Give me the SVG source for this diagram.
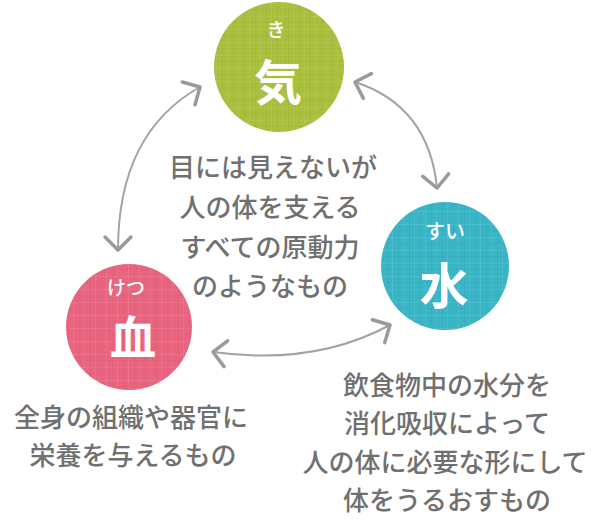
<svg xmlns="http://www.w3.org/2000/svg" width="600" height="520" viewBox="0 0 600 520">
  <style>
    .kana { font-family: "Noto Sans CJK JP", sans-serif; fill: #ffffff; font-weight: 500; text-anchor: middle; }
    .kanji { font-family: "Noto Sans CJK JP", sans-serif; fill: #ffffff; font-weight: 700; text-anchor: middle; }
    .desc { font-family: "Noto Sans CJK JP", sans-serif; fill: #707070; font-weight: 500; font-size: 26px; text-anchor: middle; }
    .conn { fill: none; stroke: #a3a3a3; stroke-width: 2; stroke-linecap: round; marker-start: url(#chev); marker-end: url(#chev); }
    .tex { fill: url(#weave); }
  </style>
  <defs>
    <marker id="chev" markerUnits="userSpaceOnUse" viewBox="-20 -18 24 36" refX="0" refY="0" markerWidth="24" markerHeight="36" orient="auto-start-reverse" overflow="visible">
      <path d="M-13,-13 L0,0 L-13,13" fill="none" stroke="#9a9a9a" stroke-width="3.5" stroke-linecap="round" stroke-linejoin="round"/>
    </marker>
    <pattern id="weave" patternUnits="userSpaceOnUse" width="11" height="13">
      <path d="M0,3.5 H11 M7.5,0 V13" stroke="#ffffff" stroke-opacity="0.08" stroke-width="1"/>
      <path d="M0,9.5 H11 M2.5,0 V13" stroke="#000000" stroke-opacity="0.03" stroke-width="1"/>
    </pattern>
  </defs>
  <rect width="600" height="520" fill="#ffffff"/>

  <g id="connectors">
    <path class="conn" d="M118,250 Q118,133 200,87"/>
    <path class="conn" d="M355,82 Q428.8,106 437,188"/>
    <path class="conn" d="M213,352 Q314,366 390,325"/>
  </g>

  <g id="node-ki">
    <circle cx="279" cy="67" r="65" fill="#a9bf3e"/>
    <circle class="tex" cx="279" cy="67" r="65"/>
    <text class="kana" x="276" y="37" font-size="19">き</text>
    <text class="kanji" x="278" y="100" font-size="48">気</text>
  </g>

  <g id="node-sui">
    <circle cx="445" cy="266" r="64" fill="#3ab5c6"/>
    <circle class="tex" cx="445" cy="266" r="64"/>
    <text class="kana" x="445" y="239" font-size="20">すい</text>
    <text class="kanji" x="444" y="304" font-size="49">水</text>
  </g>

  <g id="node-ketsu">
    <circle cx="129" cy="327" r="63" fill="#e9657f"/>
    <circle class="tex" cx="129" cy="327" r="63"/>
    <text class="kana" x="126" y="295" font-size="19">けつ</text>
    <text class="kanji" x="133" y="354" font-size="46">血</text>
  </g>

  <g id="text-ki">
    <text class="desc" x="273" y="177">目には見えないが</text>
    <text class="desc" x="270" y="217">人の体を支える</text>
    <text class="desc" x="270" y="257">すべての原動力</text>
    <text class="desc" x="270" y="296">のようなもの</text>
  </g>

  <g id="text-ketsu">
    <text class="desc" x="131" y="427" font-size="27">全身の組織や器官に</text>
    <text class="desc" x="133" y="465" font-size="27">栄養を与えるもの</text>
  </g>

  <g id="text-sui">
    <text class="desc" x="447" y="395" font-size="27">飲食物中の水分を</text>
    <text class="desc" x="447" y="433" font-size="27">消化吸収によって</text>
    <text class="desc" x="445" y="472" font-size="27">人の体に必要な形にして</text>
    <text class="desc" x="447" y="510" font-size="27">体をうるおすもの</text>
  </g>
</svg>
